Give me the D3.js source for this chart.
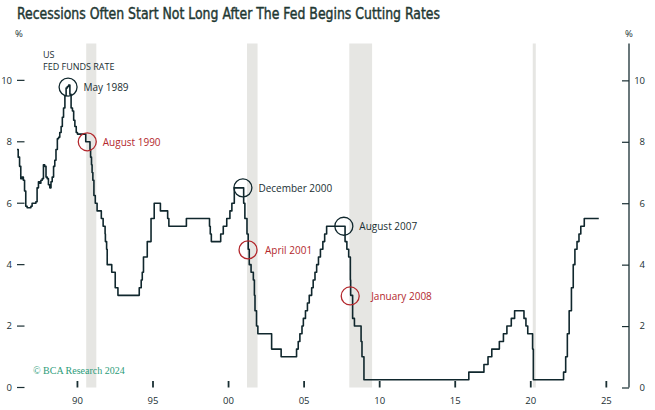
<!DOCTYPE html>
<html>
<head>
<meta charset="utf-8">
<script src="https://cdn.jsdelivr.net/npm/d3@7"></script>
<style>
  html, body { margin: 0; padding: 0; background: #ffffff; }
  svg { display: block; }
</style>
</head>
<body>
<svg id="chart" width="655" height="410"></svg>
<script>
// ---------------- DATA ----------------
const chartTitle = "Recessions Often Start Not Long After The Fed Begins Cutting Rates";
const seriesLabel = ["US", "FED FUNDS RATE"];
const sourceNote = "\u00A9 BCA Research 2024";

// Fed funds rate: dates (decimal years) at which the value starts, and the value (%)
const rateDates = [
  1986.00, 1986.08, 1986.17, 1986.25, 1986.33, 1986.42, 1986.50, 1986.58, 1986.67, 1986.75, 1986.83, 1986.92,
  1987.00, 1987.08, 1987.17, 1987.25, 1987.33, 1987.42, 1987.50, 1987.58, 1987.67, 1987.75, 1987.83, 1987.92,
  1988.00, 1988.08, 1988.17, 1988.25, 1988.33, 1988.42, 1988.50, 1988.58, 1988.67, 1988.75, 1988.83, 1988.92,
  1989.00, 1989.08, 1989.17, 1989.25, 1989.33, 1989.42, 1989.50, 1989.58, 1989.67, 1989.75, 1989.83, 1989.92,
  1990.00, 1990.55, 1990.83, 1990.87, 1990.93, 1990.97,
  1991.02, 1991.09, 1991.18, 1991.30, 1991.58, 1991.70, 1991.83, 1991.85, 1991.93, 1991.97,
  1992.27, 1992.50, 1992.68,
  1994.09, 1994.22, 1994.29, 1994.37, 1994.62, 1994.87,
  1995.08, 1995.49, 1995.97, 1996.05, 1997.21, 1998.74, 1998.79, 1998.86,
  1999.48, 1999.65, 1999.88, 2000.09, 2000.22, 2000.38,
  2001.00, 2001.08, 2001.22, 2001.30, 2001.37, 2001.49, 2001.64, 2001.71, 2001.75, 2001.85, 2001.94,
  2002.85, 2003.48, 2004.50, 2004.61, 2004.72, 2004.86, 2004.95,
  2005.09, 2005.22, 2005.34, 2005.50, 2005.60, 2005.72, 2005.83, 2005.95,
  2006.08, 2006.24, 2006.36, 2006.49,
  2007.71, 2007.83, 2007.95, 2008.06, 2008.08, 2008.21, 2008.33, 2008.77, 2008.83, 2008.96,
  2015.90, 2016.90, 2017.17, 2017.42, 2017.92, 2018.19, 2018.42, 2018.71, 2018.93,
  2019.55, 2019.68, 2019.80, 2020.12, 2020.17,
  2022.17, 2022.31, 2022.42, 2022.54, 2022.69, 2022.81, 2022.92,
  2023.06, 2023.19, 2023.31, 2023.54, 2024.50
];
const rateValues = [
  7.75, 7.50, 7.20, 6.80, 6.85, 6.75, 6.40, 5.90, 5.85, 5.85, 5.85, 5.90,
  6.00, 6.00, 6.00, 6.05, 6.50, 6.70, 6.65, 6.75, 6.80, 7.25, 7.20, 6.85,
  6.80, 6.60, 6.50, 6.70, 6.85, 7.20, 7.40, 7.75, 8.10, 8.15, 8.30, 8.50,
  8.80, 9.10, 9.50, 9.75, 9.80, 9.85, 9.55, 9.10, 9.00, 8.70, 8.50, 8.30,
  8.25, 8.00, 7.75, 7.50, 7.25, 7.00,
  6.75, 6.25, 6.00, 5.75, 5.50, 5.25, 5.00, 4.75, 4.50, 4.00,
  3.75, 3.25, 3.00,
  3.25, 3.50, 3.75, 4.25, 4.75, 5.50,
  6.00, 5.75, 5.50, 5.25, 5.50, 5.25, 5.00, 4.75,
  5.00, 5.25, 5.50, 5.75, 6.00, 6.50,
  6.00, 5.50, 5.00, 4.50, 4.00, 3.75, 3.50, 3.00, 2.50, 2.00, 1.75,
  1.25, 1.00, 1.25, 1.50, 1.75, 2.00, 2.25,
  2.50, 2.75, 3.00, 3.25, 3.50, 3.75, 4.00, 4.25,
  4.50, 4.75, 5.00, 5.25,
  4.75, 4.50, 4.25, 3.50, 3.00, 2.25, 2.00, 1.50, 1.00, 0.25,
  0.50, 0.75, 1.00, 1.25, 1.50, 1.75, 2.00, 2.25, 2.50,
  2.25, 2.00, 1.75, 1.25, 0.25,
  0.50, 1.00, 1.75, 2.50, 3.25, 4.00, 4.50,
  4.75, 5.00, 5.25, 5.50, 5.50
];

// Recessions (decimal years)
const recessionStart = [1990.58, 2001.22, 2007.99, 2020.13];
const recessionEnd   = [1991.25, 2001.92, 2009.50, 2020.33];

// Annotated events
const eventLabels = ["May 1989", "August 1990", "December 2000", "April 2001", "August 2007", "January 2008"];
const eventDates  = [1989.38, 1990.65, 2000.95, 2001.29, 2007.63, 2008.05];
const eventValues = [9.78, 8.00, 6.50, 4.48, 5.25, 2.98];
const eventKinds  = ["peak", "cut", "peak", "cut", "peak", "cut"];

// Axes
const yTicks = [0, 2, 4, 6, 8, 10];
const xTickYears = [1990, 1995, 2000, 2005, 2010, 2015, 2020, 2025];
const xTickLabels = ["90", "95", "00", "05", "10", "15", "20", "25"];

// ---------------- LAYOUT / STYLE ----------------
const W = 655, H = 410;
const plot = { left: 17, right: 629, top: 43.5, bottom: 387.5 };
const colors = {
  line: "#10272d",
  ink: "#1a2f33",
  title: "#1f3833",
  red: "#b3282d",
  band: "#e6e6e3",
  note: "#2c9c7a"
};
const labelFont = "'Open Sans', 'DejaVu Sans', sans-serif";
const labelGap = { "January 2008": 21, "April 2001": 17 };

const svg = d3.select("#chart");
svg.append("rect").attr("width", W).attr("height", H).attr("fill", "#ffffff");

const x = d3.scaleLinear().domain([1986, 2026.5]).range([plot.left, plot.right]);
const y = d3.scaleLinear().domain([0, 11.2]).range([plot.bottom, plot.top]);

// Title
svg.append("text")
  .attr("x", 17).attr("y", 19)
  .attr("fill", colors.title)
  .attr("stroke", colors.title)
  .attr("stroke-width", 0.45)
  .attr("font-family", "'Liberation Sans Narrow', 'DejaVu Sans Condensed', 'Roboto', sans-serif")
  .attr("font-size", 16.5)
  .attr("textLength", 423)
  .attr("lengthAdjust", "spacingAndGlyphs")
  .text(chartTitle);

// Recession bands
svg.append("g").selectAll("rect")
  .data(recessionStart.map((s, i) => ({ s, e: recessionEnd[i] })))
  .join("rect")
  .attr("x", d => x(d.s))
  .attr("width", d => x(d.e) - x(d.s))
  .attr("y", y(11.2))
  .attr("height", y(0) - y(11.2))
  .attr("fill", colors.band);

// % unit labels
[[19, "%"], [629, "%"]].forEach(([px, t]) => {
  svg.append("text").attr("x", px).attr("y", 37)
    .attr("text-anchor", "middle")
    .attr("fill", colors.ink)
    .attr("font-family", labelFont).attr("font-size", 9.5)
    .text(t);
});

// Left y axis (tick marks + labels, no domain line)
const leftAxis = svg.append("g");
yTicks.forEach(v => {
  leftAxis.append("line")
    .attr("x1", 17).attr("x2", 24.5)
    .attr("y1", y(v)).attr("y2", y(v))
    .attr("stroke", colors.ink).attr("stroke-width", 1.2);
  leftAxis.append("text")
    .attr("x", 12).attr("y", y(v)).attr("dy", "0.35em")
    .attr("text-anchor", "end")
    .attr("fill", colors.ink)
    .attr("font-family", labelFont).attr("font-size", 9.5)
    .text(v);
});

// Right y axis via d3.axisLeft positioned at the right edge (ticks point inward)
const rightAxis = svg.append("g")
  .attr("transform", `translate(${plot.right},0)`)
  .call(d3.axisLeft(y).tickValues(yTicks).tickSize(7).tickFormat(""));
rightAxis.select(".domain")
  .attr("d", `M0,${y(11.2)}V${y(0)}`)
  .attr("stroke", colors.ink).attr("stroke-width", 1.3);
rightAxis.selectAll(".tick line").attr("stroke", colors.ink).attr("stroke-width", 1.2);
yTicks.forEach(v => {
  svg.append("text")
    .attr("x", 645).attr("y", y(v)).attr("dy", "0.35em")
    .attr("text-anchor", "end")
    .attr("fill", colors.ink)
    .attr("font-family", labelFont).attr("font-size", 9.5)
    .text(v);
});

// X axis: short upward ticks and labels below
const xAxis = svg.append("g");
xTickYears.forEach((yr, i) => {
  xAxis.append("line")
    .attr("x1", x(yr)).attr("x2", x(yr))
    .attr("y1", plot.bottom - 6.5).attr("y2", plot.bottom)
    .attr("stroke", colors.ink).attr("stroke-width", 1.8);
  xAxis.append("text")
    .attr("x", x(yr)).attr("y", 404)
    .attr("text-anchor", "middle")
    .attr("fill", colors.ink)
    .attr("font-family", labelFont).attr("font-size", 9.5)
    .text(xTickLabels[i]);
});

// Fed funds line
const pts = rateDates.map((d, i) => ({ d, v: rateValues[i] }));
const line = d3.line().x(p => x(p.d)).y(p => y(p.v)).curve(d3.curveStepAfter);
svg.append("path")
  .datum(pts)
  .attr("d", line)
  .attr("fill", "none")
  .attr("stroke", colors.line)
  .attr("stroke-width", 1.6)
  .attr("stroke-linejoin", "round");

// Series label
seriesLabel.forEach((t, i) => {
  svg.append("text")
    .attr("x", 43).attr("y", 57.5 + i * 12)
    .attr("fill", colors.ink)
    .attr("font-family", labelFont).attr("font-size", 9)
    .text(t);
});

// Event circles + labels
const events = eventLabels.map((l, i) => ({ l, d: eventDates[i], v: eventValues[i], k: eventKinds[i] }));
const ev = svg.append("g").selectAll("g").data(events).join("g");
ev.append("circle")
  .attr("cx", e => x(e.d)).attr("cy", e => y(e.v)).attr("r", 9)
  .attr("fill", "none")
  .attr("stroke", e => e.k === "cut" ? colors.red : colors.line)
  .attr("stroke-width", 1.3);
ev.append("text")
  .attr("x", e => x(e.d) + (labelGap[e.l] || 15.5))
  .attr("y", e => y(e.v)).attr("dy", "0.4em")
  .attr("fill", e => e.k === "cut" ? colors.red : colors.ink)
  .attr("font-family", labelFont).attr("font-size", 10)
  .text(e => e.l);

// Source note
svg.append("text")
  .attr("x", 33).attr("y", 374)
  .attr("fill", colors.note)
  .attr("font-family", "'Liberation Serif', 'DejaVu Serif', serif")
  .attr("font-size", 10)
  .text(sourceNote);
</script>
</body>
</html>
